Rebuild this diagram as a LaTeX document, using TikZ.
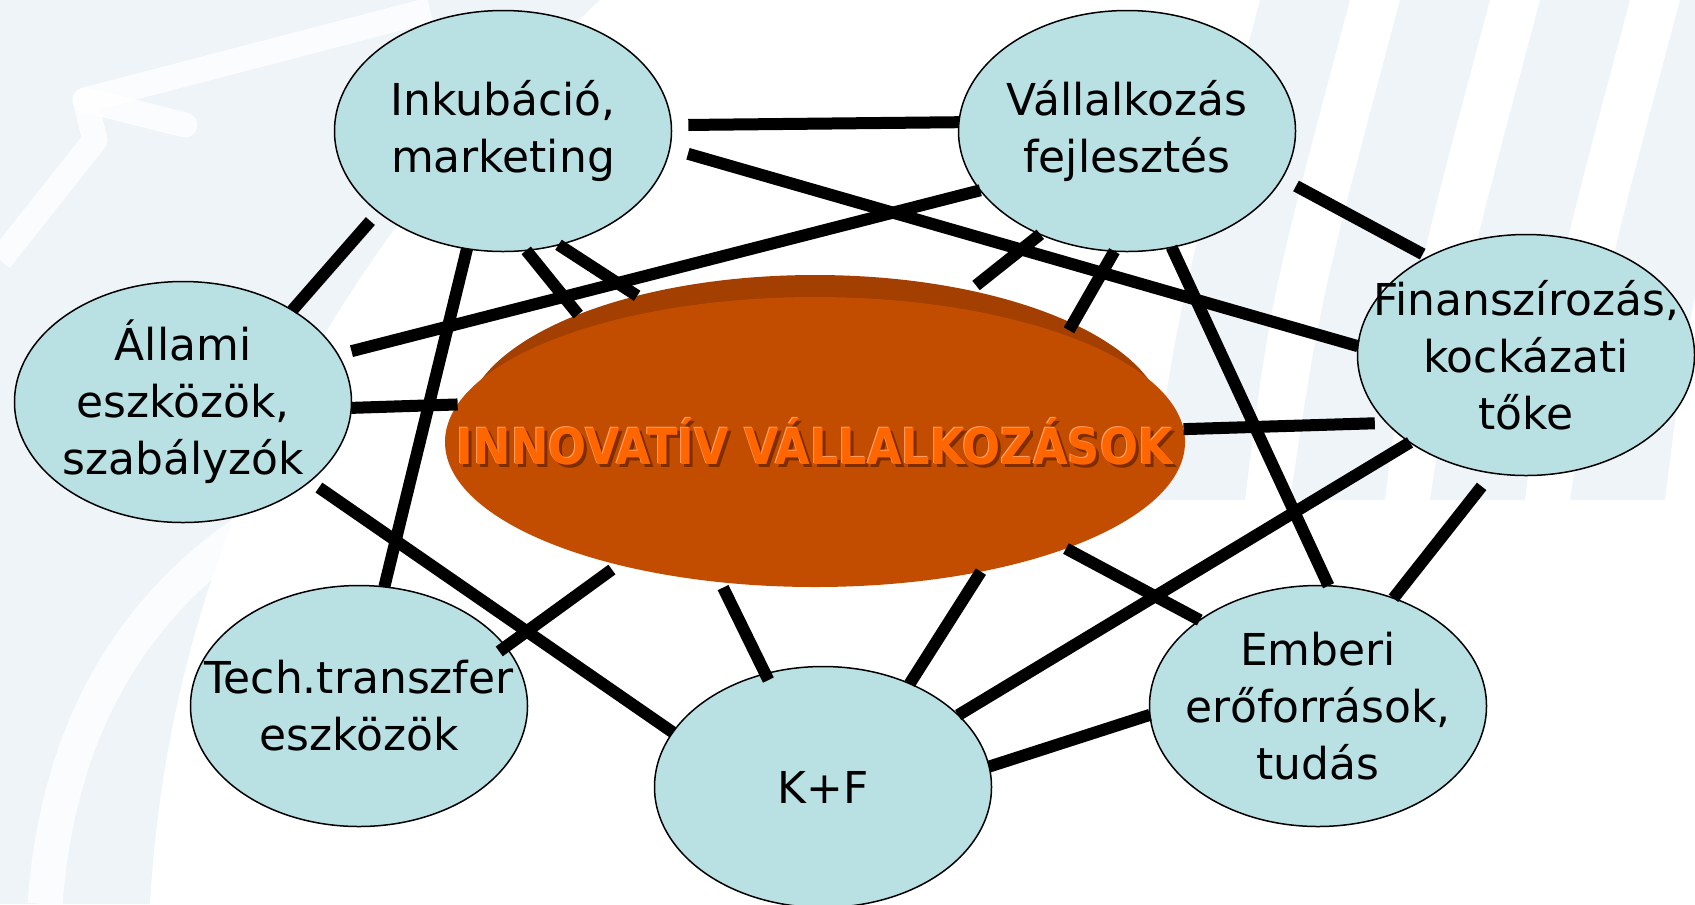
\documentclass[tikz,border=0pt]{standalone}
\usepackage{fontspec}
\setmainfont{DejaVu Sans}
\newfontfamily\corefont{DejaVu Sans Condensed}
\usetikzlibrary{shapes.geometric}
\definecolor{bubble}{RGB}{185,224,227}
\definecolor{core}{RGB}{194,77,0}
\definecolor{coretop}{RGB}{163,63,0}
\definecolor{coretext}{RGB}{255,102,0}
\definecolor{coreshade}{RGB}{125,45,0}
\definecolor{corelight}{RGB}{255,160,100}
\definecolor{wm}{RGB}{239,244,249}
\tikzset{
  topic/.style={ellipse, draw=black, line width=0.3mm, fill=bubble,
    minimum width=67.4mm, minimum height=48.2mm, inner xsep=-3cm, inner ysep=-2cm, outer sep=0pt,
    align=center, font=\fontsize{25}{32.5}\selectfont},
  link/.style={line width=2.4mm},
  corelabel/.style={font=\corefont\fontsize{28.3}{31}\selectfont\bfseries},
}

\begin{document}
\begin{tikzpicture}[x=0.2mm,y=-0.2mm]
    \useasboundingbox (0,0) rectangle (1695,904);

    % watermark in the background
    \fill[wm] (0,0) -- (600,0) .. controls (330,250) and (170,550) .. (150,904) -- (0,904) -- cycle;
    \draw[white, line width=5mm, line join=round, opacity=0.8] (430,10) -- (85,100) -- (95,140) -- (0,260);
    \draw[white, line width=5mm, line cap=round, opacity=0.8] (85,100) -- (185,125);
    \draw[white, line width=7mm, opacity=0.8] (45,904) .. controls (60,700) and (160,540) .. (390,460);
    \foreach \s in {1150,1290,1430,1570}
        \fill[wm] (\s,500) .. controls (\s+30,300) .. (\s+110,0)
            -- (\s+200,0) .. controls (\s+120,300) .. (\s+95,500) -- cycle;

    % the disc in the middle
    \node[ellipse, fill=coretop, minimum width=140mm, minimum height=60mm, outer sep=0pt] (disc) at (815,425) {};
    \node[ellipse, fill=core, minimum width=148mm, minimum height=58mm, outer sep=0pt] (innov) at (815,442) {};
    \node[corelabel, text=coreshade] at (818,445) {INNOVATÍV VÁLLALKOZÁSOK};
    \node[corelabel, text=corelight] at (814,441) {INNOVATÍV VÁLLALKOZÁSOK};
    \node[corelabel, text=coretext] at (815,442) {INNOVATÍV VÁLLALKOZÁSOK};

    % the topics round it
    \node[topic] (inku) at (503,131) {Inkubáció,\\marketing};
    \node[topic] (vall) at (1127,131) {Vállalkozás\\fejlesztés};
    \node[topic] (allami) at (183,402) {Állami\\eszközök,\\szabályzók};
    \node[topic] (fin) at (1526,355) {Finanszírozás,\\kockázati\\tőke};
    \node[topic] (tech) at (359,706) {Tech.transzfer\\eszközök};
    \node[topic] (kf) at (823,787) {K+F};
    \node[topic] (ember) at (1318,706) {Emberi\\erőforrások,\\tudás};

    % links
    \draw[link, shorten <=3.4mm] (inku.2.8) -- (vall.177);
    \draw[link, shorten <=3.8mm] (inku.-6.8) -- (fin.177.9);
    \draw[link, shorten <=2.4mm] (inku.-147.2) -- (allami.40);
    \draw[link] (inku.-107.6) -- (tech.78.3);
    \draw[link] (inku.-79.2) -- (disc.155.2);
    \draw[link] (inku.-64) -- (disc.144.8);
    \draw[link, shorten >=2.8mm] (vall.-158.5) -- (allami.17.5);
    \draw[link, shorten >=1.6mm] (vall.-130.8) -- (disc.41.2);
    \draw[link, shorten >=1.2mm] (vall.-96.7) -- (innov.23.3);
    \draw[link] (vall.-69.9) -- (ember.85.3);
    \draw[link, shorten <=3.2mm, shorten >=1.2mm] (vall.-17) -- (fin.135.6);
    \draw[link] (allami.-2.4) -- (innov.174.9);
    \draw[link, shorten <=2.2mm] (allami.-32) -- (kf.160.2);
    \draw[link, shorten >=2.4mm] (innov.2.3) -- (fin.-154.5);
    \draw[link] (fin.-143.2) -- (kf.28.1);
    \draw[link, shorten <=3.4mm] (fin.-106.5) -- (ember.55.4);
    \draw[link, shorten <=1.6mm, shorten >=-1.6mm] (innov.-148.7) -- (tech.22.4);
    \draw[link, shorten <=1.2mm, shorten >=-1.4mm] (innov.-124) -- (kf.117.2);
    \draw[link] (innov.-38.7) -- (kf.50.7);
    \draw[link] (innov.-23.1) -- (ember.144.4);
    \draw[link] (kf.7.8) -- (ember.-177.9);
\end{tikzpicture}
\end{document}
